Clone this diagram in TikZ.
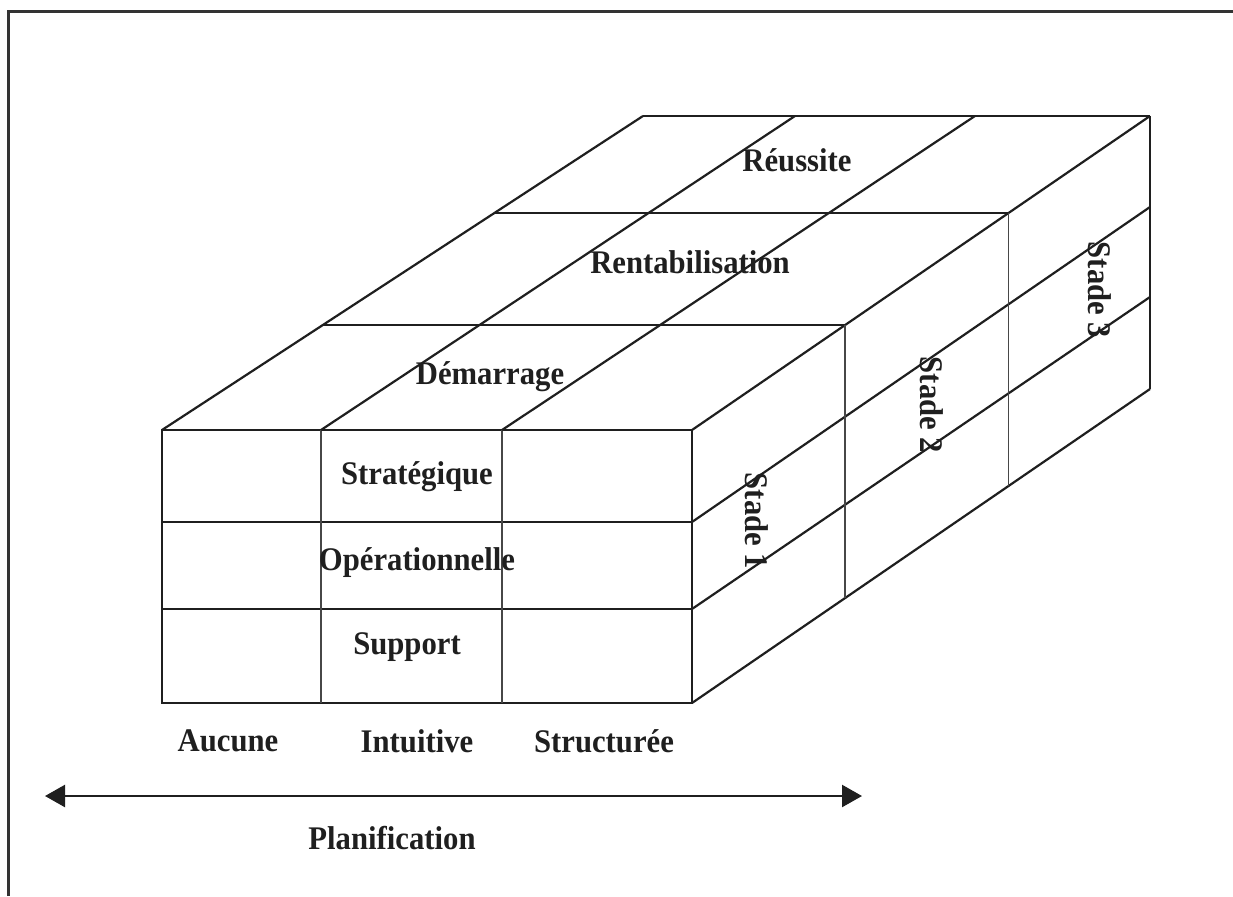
\documentclass[tikz,border=0pt]{standalone}
\usepackage{fontspec}
\setmainfont{Liberation Serif}
\usetikzlibrary{arrows.meta,calc}
\begin{document}
\begin{tikzpicture}[x=1pt,y=-1pt,
  edge/.style={line width=2.2pt, draw=black!88},
  thinedge/.style={line width=1.6pt, draw=black!72},
  lbl/.style={font=\fontsize{33}{38}\selectfont\bfseries, inner sep=0pt, text=black!88, xscale=0.93},
  vlbl/.style={rotate=-90, lbl},
]
\useasboundingbox (0,0) rectangle (1233,896);
% frame
\draw[line width=3pt, black!80] (8,896) -- (8,12) -- (1233,12);

% front corners
\coordinate (F1) at (162,430);
\coordinate (F2) at (321,430);
\coordinate (F3) at (502,430);
\coordinate (F4) at (692,430);
\coordinate (B1) at (162,703);
\coordinate (B2) at (321,703);
\coordinate (B3) at (502,703);
\coordinate (B4) at (692,703);
% back top corners
\coordinate (K1) at (643,116);
\coordinate (K2) at (795,116);
\coordinate (K3) at (975,116);
\coordinate (K4) at (1150,116);
\coordinate (KB) at (1150,389);
% row points
\coordinate (R1) at (692,522);
\coordinate (R2) at (692,609);
\coordinate (Q1) at (1150,207);
\coordinate (Q2) at (1150,297);

% front face
\draw[edge] (F1) rectangle (B4);
\draw[edge] (162,522) -- (R1);
\draw[edge] (162,609) -- (R2);
\draw[thinedge] (F2) -- (B2);
\draw[thinedge] (F3) -- (B3);

% top face
\draw[edge] (F1) -- (K1);
\draw[edge] (F2) -- (K2);
\draw[edge] (F3) -- (K3);
\draw[edge] (F4) -- (K4);
\draw[edge] (K1) -- (K4);
\draw[edge] ($(F1)!0.334!(K1)$) -- ($(F4)!0.334!(K4)$);
\draw[edge] ($(F1)!0.691!(K1)$) -- ($(F4)!0.691!(K4)$);

% right face
\draw[edge] (K4) -- (KB);
\draw[edge] (B4) -- (KB);
\draw[edge] (R1) -- (Q1);
\draw[edge] (R2) -- (Q2);
\draw[thinedge] ($(F4)!0.334!(K4)$) -- ($(B4)!0.334!(KB)$);
\draw[thinedge] ($(F4)!0.691!(K4)$) -- ($(B4)!0.691!(KB)$);

% labels on cube
\node[lbl] (reussite) at (797,160) {Réussite};
\node[lbl] (rentab) at (690,262) {Rentabilisation};
\node[lbl] (demar) at (490,377) {Démarrage};
\node[lbl] (strat) at (417,477) {Stratégique};
\node[lbl] (oper) at (417,563) {Opérationnelle};
\node[lbl] (supp) at (407,647) {Support};
\node[vlbl] (st1) at (757,521) {Stade 1};
\node[vlbl] (st2) at (932,405) {Stade 2};
\node[vlbl] (st3) at (1100,290) {Stade 3};

% axis
\node[lbl] (aucune) at (228,741) {Aucune};
\node[lbl] (intuit) at (417,741) {Intuitive};
\node[lbl] (struct) at (604,741) {Structurée};
\coordinate (AL) at (45,796);
\coordinate (AR) at (862,796);
\draw[line width=2.4pt, black!88, {Triangle[length=20pt,width=22pt]}-{Triangle[length=20pt,width=22pt]}] (AL) -- (AR);
\node[lbl] (plan) at (392,838) {Planification};
\end{tikzpicture}
\end{document}
